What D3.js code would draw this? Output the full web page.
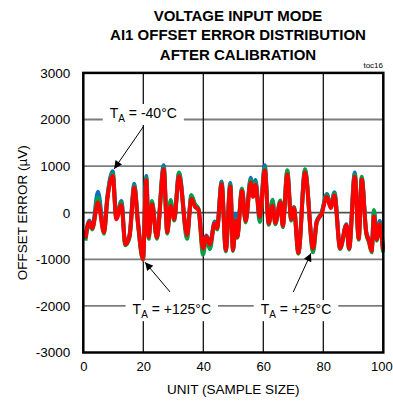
<!DOCTYPE html>
<html>
<head>
<meta charset="utf-8">
<script src="https://cdn.jsdelivr.net/npm/d3@7"></script>
<style>
  body { margin: 0; background: #fff; }
  svg { font-family: "Liberation Sans", Arial, sans-serif; }
</style>
</head>
<body>
<div id="chart"></div>
<script>
// sample positions (unit number) where the traces turn
const sampleUnit = [0.7, 2.0, 3.0, 4.9, 6.9, 8.0, 9.8, 11.0, 12.7, 14.0, 15.4, 17.0, 18.2, 19.9, 21.0, 21.8, 22.9, 24.5, 26.8, 28.0,
  29.1, 30.3, 31.9, 34.6, 36.0, 37.2, 38.4, 39.9, 41.0, 42.2, 43.8, 44.6, 46.1, 47.5, 49.0, 49.9, 50.8, 51.3, 52.9, 54.1,
  55.8, 56.6, 57.4, 58.8, 60.5, 61.8, 63.1, 64.0, 65.7, 66.5, 68.0, 69.3, 70.2, 71.7, 73.9, 76.6, 77.8, 79.4, 81.2, 82.5,
  83.7, 85.6, 87.7, 88.6, 90.5, 91.8, 92.8, 94.3, 95.2, 96.1, 96.9, 97.8, 98.8, 99.9];

// offset error (uV), TA = +125C (red)
const err125 = [-550, -200, -330, 220, -420, 280, 790, -140, 170, -680, -500, 540, -200, -1000, 700, -520, 180, -530, 930, -420,
  150, -140, 790, -480, 300, 130, 60, -770, -510, -680, -230, -330, 610, -800, 560, -800, -170, -520, 470, -180,
  650, 340, 600, -90, 910, -230, 150, -220, 220, -280, 820, -140, 100, -860, 860, -770, -200, -30, 340, 100,
  370, -760, -270, -770, 770, -560, 710, -420, -600, -820, -80, -570, -250, -800];

// TA = +25C (green)
const err25 = [-600, -230, -360, 330, -450, 300, 840, -110, 220, -700, -540, 580, -230, -1010, 740, -560, 250, -560, 960, -450,
  270, -170, 860, -560, 380, 190, 80, -900, -560, -780, -220, -360, 640, -830, 600, -820, -150, -540, 520, -210,
  700, 360, 650, -200, 960, -260, 280, -250, 260, -310, 910, -170, 120, -880, 930, -850, -220, -20, 380, 120,
  410, -780, -290, -790, 820, -580, 770, -450, -630, -850, 60, -600, -230, -850];

// TA = -40C (blue)
const errM40 = [-520, -170, -310, 450, -400, 330, 890, -90, 250, -660, -470, 620, -170, -980, 790, -500, 220, -520, 1020, -400,
  240, -120, 840, -460, 350, 160, 70, -760, -490, -660, -190, -310, 670, -780, 640, -780, -20, -500, 500, -160,
  750, 370, 700, -70, 1020, -210, 250, -200, 250, -260, 880, -120, 110, -840, 900, -750, -180, 0, 400, 130,
  440, -740, -250, -750, 860, -540, 740, -400, -580, -800, 20, -550, -180, -780];

const xTicks = [0, 20, 40, 60, 80, 100];
const yTicks = [-3000, -2000, -1000, 0, 1000, 2000, 3000];
const titleLines = ["VOLTAGE INPUT MODE", "AI1 OFFSET ERROR DISTRIBUTION", "AFTER CALIBRATION"];

// annotation: label centre and arrow (tail -> tip), in data units
const notes = [
  { temp: "= -40°C", lx: 20, ly: 2140, tx: 20, ty: 1845, hx: 10.3, hy: 940 },
  { temp: "= +125°C", lx: 29.5, ly: -2070, tx: 28.9, ty: -1700, hx: 20.6, hy: -1065 },
  { temp: "= +25°C", lx: 70.9, ly: -2070, tx: 70, ty: -1700, hx: 75.9, hy: -870 }
];

const width = 393, height = 402;
const x = d3.scaleLinear().domain([0, 100]).range([83.3, 383.3]);
const y = d3.scaleLinear().domain([-3000, 3000]).range([352.5, 72.9]);

let svg = d3.select("#chart").append("svg")
  .attr("width", width)
  .attr("height", height);

// title
svg.append("g").selectAll("text")
  .data(titleLines)
  .join("text")
    .attr("x", 238)
    .attr("y", (d, i) => 21 + i * 19.3)
    .attr("text-anchor", "middle")
    .attr("font-size", 15)
    .attr("font-weight", "bold")
    .text(d => d);

svg.append("text")
  .attr("x", 383)
  .attr("y", 68)
  .attr("text-anchor", "end")
  .attr("font-size", 8)
  .text("toc16");

// grid
svg.append("g").selectAll("line")
  .data(yTicks.slice(1, -1))
  .join("line")
    .attr("x1", x(0)).attr("x2", x(100))
    .attr("y1", d => y(d)).attr("y2", d => y(d))
    .attr("stroke", d => d == 0 ? "#505050" : "#7c7c7c")
    .attr("stroke-width", 1.8);

svg.append("g").selectAll("line")
  .data(xTicks.slice(1, -1))
  .join("line")
    .attr("x1", d => x(d)).attr("x2", d => x(d))
    .attr("y1", y(3000)).attr("y2", y(-3000))
    .attr("stroke", "#111")
    .attr("stroke-width", 1.3);

// traces
const rows = sampleUnit.map((u, i) => ({ u: u, red: err125[i], green: err25[i], blue: errM40[i] }));
const series = [["blue", "#0a6fc2"], ["green", "#00a04a"], ["red", "#ff0000"]];
for (let [key, col] of series) {
  svg.append("path")
    .datum(rows)
    .attr("fill", "none")
    .attr("stroke", col)
    .attr("stroke-width", 4)
    .attr("stroke-linejoin", "round")
    .attr("d", d3.line().x(d => x(d.u)).y(d => y(d[key])).curve(d3.curveMonotoneX));
}

// frame
svg.append("rect")
  .attr("x", x(0)).attr("y", y(3000))
  .attr("width", x(100) - x(0)).attr("height", y(-3000) - y(3000))
  .attr("fill", "none")
  .attr("stroke", "#000")
  .attr("stroke-width", 2.5);

// axes (labels only)
let yAxis = svg.append("g")
  .attr("transform", `translate(${x(0) - 13},0)`)
  .call(d3.axisLeft(y).tickValues(yTicks).tickFormat(d => String(d)).tickSize(0).tickPadding(0));
yAxis.select(".domain").remove();
yAxis.selectAll("text").attr("font-size", 13.5).attr("font-family", "Liberation Sans, Arial, sans-serif").attr("fill", "#000");

let xAxis = svg.append("g")
  .attr("transform", `translate(0,${y(-3000) + 9})`)
  .call(d3.axisBottom(x).tickValues(xTicks).tickFormat(d => String(d)).tickSize(0).tickPadding(0));
xAxis.select(".domain").remove();
xAxis.selectAll("text").attr("font-size", 13).attr("font-family", "Liberation Sans, Arial, sans-serif").attr("fill", "#000");
xAxis.selectAll("text").filter(d => d == 100).attr("text-anchor", "end").attr("dx", 9);

svg.append("text")
  .attr("x", x(50))
  .attr("y", 394)
  .attr("text-anchor", "middle")
  .attr("font-size", 13.5)
  .text("UNIT (SAMPLE SIZE)");

svg.append("text")
  .attr("transform", `translate(27,${y(0)}) rotate(-90)`)
  .attr("text-anchor", "middle")
  .attr("font-size", 13.5)
  .text("OFFSET ERROR (µV)");

// annotations
svg.append("defs").append("marker")
  .attr("id", "arrow")
  .attr("viewBox", "0 0 10 10")
  .attr("refX", 10).attr("refY", 5)
  .attr("markerWidth", 10).attr("markerHeight", 8)
  .attr("markerUnits", "userSpaceOnUse")
  .attr("orient", "auto")
  .append("path")
    .attr("d", "M0,0 L10,5 L0,10 Z")
    .attr("fill", "#000");

for (let n of notes) {
  svg.append("line")
    .attr("x1", x(n.tx)).attr("y1", y(n.ty))
    .attr("x2", x(n.hx)).attr("y2", y(n.hy))
    .attr("stroke", "#000")
    .attr("stroke-width", 1)
    .attr("marker-end", "url(#arrow)");

  let g = svg.append("g");
  let bg = g.append("rect").attr("fill", "#fff");
  let t = g.append("text")
    .attr("x", x(n.lx))
    .attr("y", y(n.ly) + 5)
    .attr("text-anchor", "middle")
    .attr("font-size", 14);
  t.append("tspan").text("T");
  t.append("tspan").attr("font-size", 10).attr("dy", 4).text("A");
  t.append("tspan").attr("dy", -4).text(" " + n.temp);
  let b = t.node().getBBox();
  bg.attr("x", b.x - 7).attr("y", b.y - 1)
    .attr("width", b.width + 14).attr("height", b.height + 2);
}
</script>
</body>
</html>
